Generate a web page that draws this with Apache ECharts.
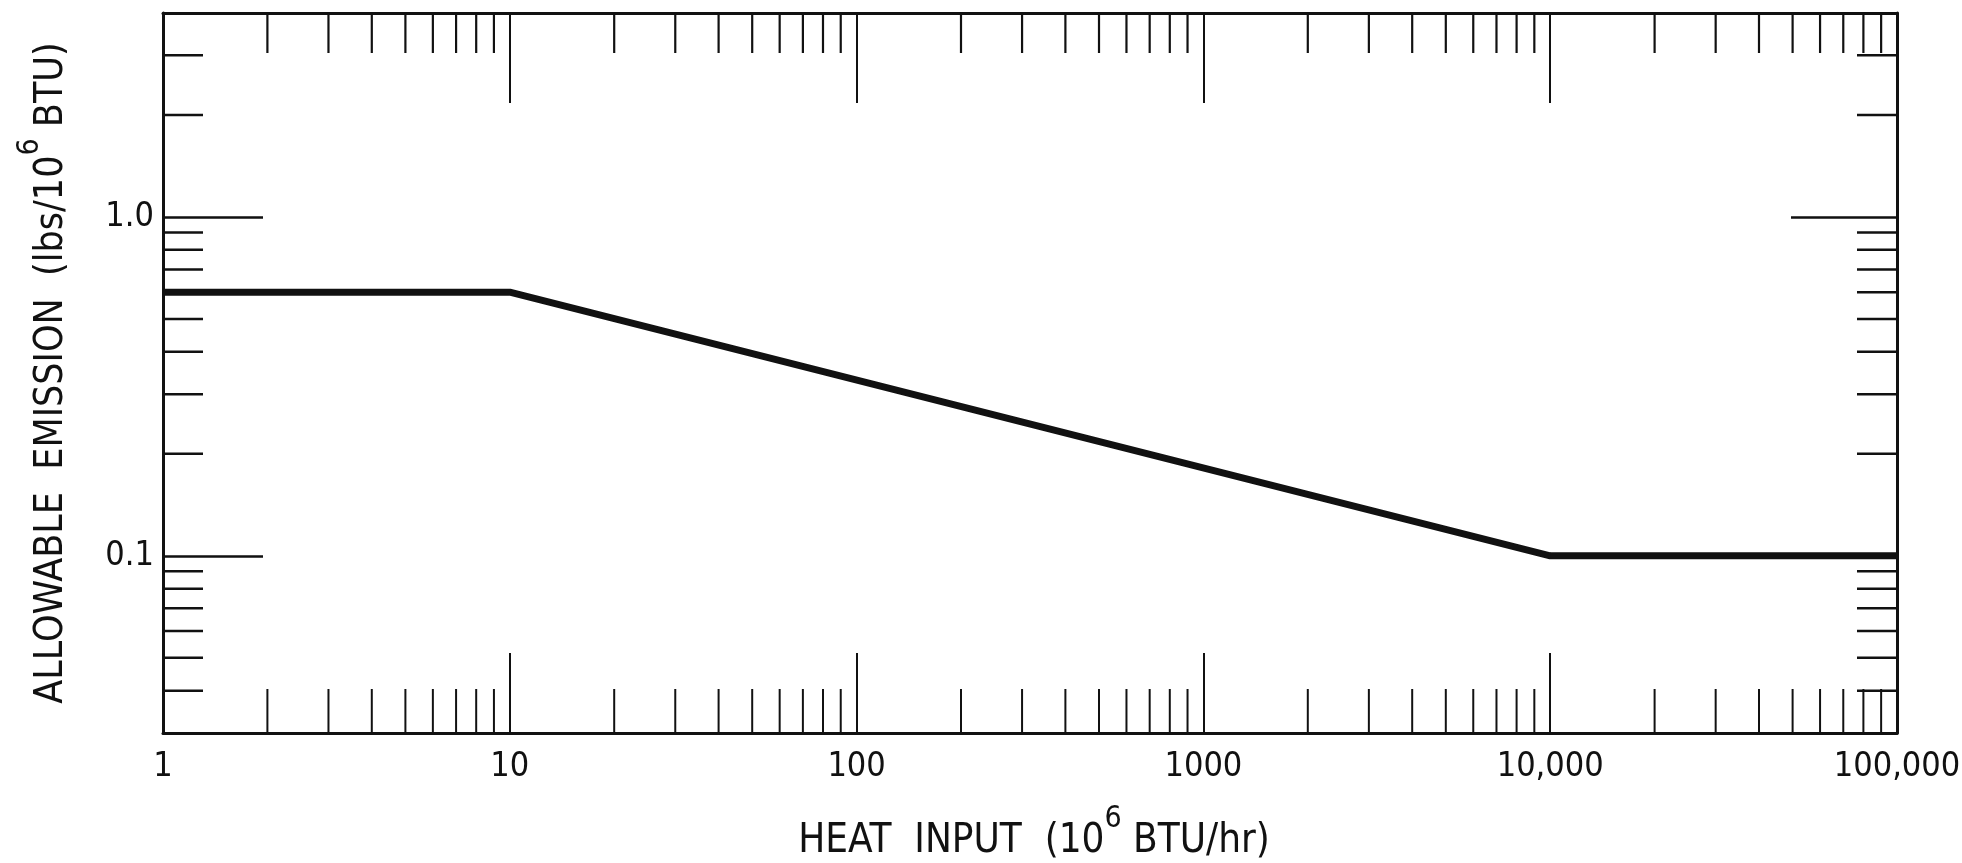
<!DOCTYPE html>
<html>
<head>
<meta charset="utf-8">
<script src="https://cdn.jsdelivr.net/npm/echarts@6/dist/echarts.min.js"></script>
<style>
html,body{margin:0;padding:0;background:#fff;overflow:hidden;}
#chart{width:1962px;height:863px;}
</style>
</head>
<body>
<div id="chart"></div>
<script>
// ---- data ----
const heatInput = [1, 10, 10000, 100000];
const allowableEmission = [0.6, 0.6, 0.1, 0.1];

const xTickValues = [1, 10, 100, 1000, 10000, 100000];
const xTickLabels = ['1', '10', '100', '1000', '10,000', '100,000'];
const yTickValues = [0.1, 1];
const yTickLabels = ['0.1', '1.0'];

const xMinorTicks = [2, 3, 4, 5, 6, 7, 8, 9,
  20, 30, 40, 50, 60, 70, 80, 90,
  200, 300, 400, 500, 600, 700, 800, 900,
  2000, 3000, 4000, 5000, 6000, 7000, 8000, 9000,
  20000, 30000, 40000, 50000, 60000, 70000, 80000, 90000];
const yMinorTicks = [0.04, 0.05, 0.06, 0.07, 0.08, 0.09,
  0.2, 0.3, 0.4, 0.5, 0.6, 0.7, 0.8, 0.9, 2, 3];

const X_MIN = 1, X_MAX = 100000, Y_MIN = 0.03, Y_MAX = 4;

const INK = '#111';
const FONT = "'Liberation Sans Narrow', 'DejaVu Sans Condensed', 'Liberation Sans', sans-serif";

function pickLabel(values, labels, v) {
  for (let i = 0; i < values.length; i++) {
    if (Math.abs(Math.log10(v) - Math.log10(values[i])) < 1e-6) return labels[i];
  }
  return '';
}

const chart = echarts.init(document.getElementById('chart'), null, {renderer: 'canvas'});

const axisLineStyle = {show: true, lineStyle: {color: INK, width: 3}};

const option = {
  animation: false,
  backgroundColor: '#fff',
  grid: {left: 163, right: 65, top: 13, bottom: 130, containLabel: false, outerBoundsMode: 'none'},
  xAxis: [
    {
      type: 'log', logBase: 10, position: 'bottom', min: X_MIN, max: X_MAX,
      axisLine: axisLineStyle,
      axisTick: {show: true, inside: true, length: 80, lineStyle: {color: INK, width: 2}},
      splitLine: {show: false}, minorTick: {show: false},
      axisLabel: {
        show: true, margin: 17, color: INK, fontFamily: FONT, fontSize: 34,
        formatter: v => pickLabel(xTickValues, xTickLabels, v)
      },
      name: '{a|HEAT  INPUT  (10}{s|6}{a| BTU/hr)}',
      nameLocation: 'middle', nameGap: 71,
      nameTextStyle: {
        padding: [0, 0, 0, 8],
        rich: {
          a: {fontFamily: FONT, fontSize: 40, color: INK, lineHeight: 58, verticalAlign: 'bottom'},
          s: {fontFamily: FONT, fontSize: 30, color: INK, lineHeight: 30, verticalAlign: 'top'}
        }
      }
    },
    {
      type: 'log', logBase: 10, position: 'top', min: X_MIN, max: X_MAX,
      axisLine: axisLineStyle,
      axisTick: {show: true, inside: true, length: 90, lineStyle: {color: INK, width: 2}},
      splitLine: {show: false}, minorTick: {show: false},
      axisLabel: {show: false}
    }
  ],
  yAxis: [
    {
      type: 'log', logBase: 10, position: 'left', min: Y_MIN, max: Y_MAX,
      axisLine: axisLineStyle,
      axisTick: {show: true, inside: true, length: 100, lineStyle: {color: INK, width: 2.5}},
      splitLine: {show: false}, minorTick: {show: false},
      axisLabel: {
        show: true, margin: 9, color: INK, fontFamily: FONT, fontSize: 34,
        showMinLabel: false, showMaxLabel: false,
        formatter: v => pickLabel(yTickValues, yTickLabels, v)
      },
      name: '{a|ALLOWABLE  EMISSION  (lbs/10}{s|6}{a| BTU)}',
      nameLocation: 'middle', nameGap: 92, nameRotate: 90,
      nameTextStyle: {
        rich: {
          a: {fontFamily: FONT, fontSize: 39, color: INK, lineHeight: 56, verticalAlign: 'bottom'},
          s: {fontFamily: FONT, fontSize: 30, color: INK, lineHeight: 30, verticalAlign: 'top'}
        }
      }
    },
    {
      type: 'log', logBase: 10, position: 'right', min: Y_MIN, max: Y_MAX,
      axisLine: axisLineStyle,
      axisTick: {show: true, inside: true, length: 106, lineStyle: {color: INK, width: 2.5}},
      splitLine: {show: false}, minorTick: {show: false},
      axisLabel: {show: false}
    }
  ],
  series: [
    {
      type: 'custom', name: 'xMinor', xAxisIndex: 0, yAxisIndex: 0, clip: false, silent: true,
      data: xMinorTicks.map(v => [v, Y_MIN]),
      renderItem: function (params, api) {
        const v = api.value(0);
        const pb = api.coord([v, Y_MIN]);
        const pt = api.coord([v, Y_MAX]);
        return {
          type: 'group', children: [
            {type: 'line', shape: {x1: pb[0], y1: pb[1], x2: pb[0], y2: pb[1] - 44}, style: {stroke: INK, lineWidth: 2}},
            {type: 'line', shape: {x1: pt[0], y1: pt[1], x2: pt[0], y2: pt[1] + 40}, style: {stroke: INK, lineWidth: 2.2}}
          ]
        };
      }
    },
    {
      type: 'custom', name: 'yMinor', xAxisIndex: 0, yAxisIndex: 0, clip: false, silent: true,
      data: yMinorTicks.map(v => [X_MIN, v]),
      renderItem: function (params, api) {
        const v = api.value(1);
        const pl = api.coord([X_MIN, v]);
        const pr = api.coord([X_MAX, v]);
        return {
          type: 'group', children: [
            {type: 'line', shape: {x1: pl[0], y1: pl[1], x2: pl[0] + 40, y2: pl[1]}, style: {stroke: INK, lineWidth: 2.5}},
            {type: 'line', shape: {x1: pr[0], y1: pr[1], x2: pr[0] - 40, y2: pr[1]}, style: {stroke: INK, lineWidth: 2.5}}
          ]
        };
      }
    },
    {
      type: 'line', name: 'Allowable emission', xAxisIndex: 0, yAxisIndex: 0,
      data: heatInput.map((x, i) => [x, allowableEmission[i]]),
      symbol: 'none', silent: true,
      lineStyle: {color: INK, width: 7, join: 'round'}
    }
  ]
};

chart.setOption(option);
</script>
</body>
</html>
